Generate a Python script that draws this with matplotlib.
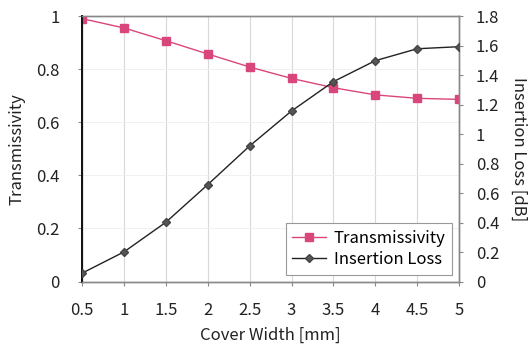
import numpy as np
import matplotlib
matplotlib.use('Agg')
import matplotlib.pyplot as plt

# データ
cover_width = [0.5, 1.0, 1.5, 2.0, 2.5, 3.0, 3.5, 4.0, 4.5, 5.0]
transmissivity = [0.99, 0.955, 0.907, 0.857, 0.808, 0.765, 0.730, 0.703, 0.690, 0.686]
insertion_loss = [0.057, 0.201, 0.402, 0.657, 0.919, 1.156, 1.355, 1.497, 1.578, 1.592]

x_ticks = [0.5, 1, 1.5, 2, 2.5, 3, 3.5, 4, 4.5, 5]
x_ticklabels = ['0.5', '1', '1.5', '2', '2.5', '3', '3.5', '4', '4.5', '5']
left_ticks = [0, 0.2, 0.4, 0.6, 0.8, 1]
left_ticklabels = ['0', '0.2', '0.4', '0.6', '0.8', '1']
right_ticks = [0, 0.2, 0.4, 0.6, 0.8, 1, 1.2, 1.4, 1.6, 1.8]
right_ticklabels = ['0', '0.2', '0.4', '0.6', '0.8', '1', '1.2', '1.4', '1.6', '1.8']

plt.rcParams['font.family'] = ['Noto Sans CJK JP', 'DejaVu Sans']
pink = '#d9467c'
grid_c = '#d8d8d8'
text_c = '#222222'

fig = plt.figure(figsize=(5.30, 3.48), dpi=100)
ax = fig.add_axes([0.155, 0.191, 0.711, 0.763])
ax2 = ax.twinx()

ax.plot(cover_width, transmissivity, c=pink, lw=1.0, marker='s', ms=5.5,
        mfc=pink, mec=pink, label='Transmissivity', zorder=3)
ax2.plot(cover_width, insertion_loss, c='#222222', lw=1.0, marker='D', ms=4,
         mfc='#555555', mec='#444444', label='Insertion Loss', zorder=3)

ax.set_xlim(0.5, 5)
ax.set_ylim(0, 1)
ax2.set_ylim(0, 1.8)
ax.set_xticks(x_ticks)
ax.set_xticklabels(x_ticklabels)
ax.set_yticks(left_ticks)
ax.set_yticklabels(left_ticklabels)
ax2.set_yticks(right_ticks)
ax2.set_yticklabels(right_ticklabels)

ax.grid(axis='x', color=grid_c, lw=0.8)
ax.grid(axis='y', color='#eeeeee', lw=0.6)
ax.set_axisbelow(True)

ax.tick_params(axis='x', labelsize=12, colors=text_c, length=3, pad=12, color='#888888')
ax.tick_params(axis='y', labelsize=12, colors=text_c, length=3, pad=13, color='#888888')
ax2.tick_params(axis='y', labelsize=12, colors=text_c, length=3, pad=9, color='#888888')

for a in (ax, ax2):
    for s in a.spines.values():
        s.set_color('#888888')
        s.set_linewidth(1.0)
ax2.spines['left'].set_color('#111111')
ax2.spines['left'].set_linewidth(1.4)

ax.set_xlabel('Cover Width [mm]', fontsize=12, color=text_c, labelpad=5)
ax.set_ylabel('Transmissivity', fontsize=12, color=text_c, labelpad=8)
ax2.set_ylabel('Insertion Loss [dB]', fontsize=12, color=text_c, rotation=-90, labelpad=20)

h1, l1 = ax.get_legend_handles_labels()
h2, l2 = ax2.get_legend_handles_labels()
leg = ax2.legend(h1 + h2, l1 + l2, loc='lower right', fontsize=12, frameon=True,
                 fancybox=False, edgecolor='#999999', framealpha=1.0,
                 handlelength=2.0, handletextpad=0.5, borderaxespad=0.4,
                 labelspacing=0.25, borderpad=0.4)
leg.get_frame().set_linewidth(0.8)

fig.savefig('out.png', dpi=100, facecolor='white')
